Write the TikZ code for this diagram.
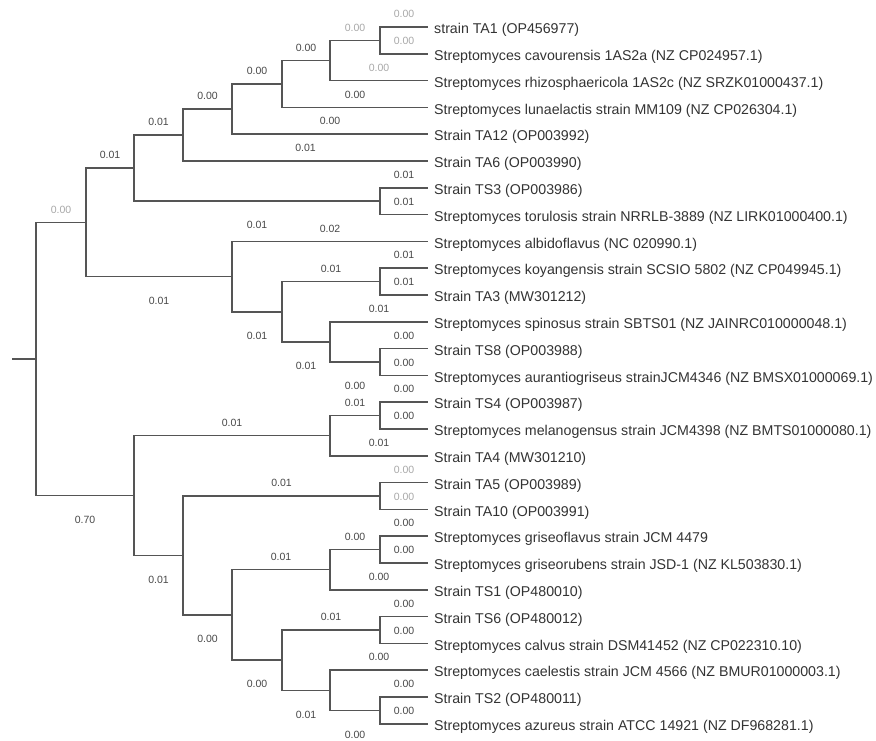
\documentclass[tikz,border=0pt]{standalone}
\usepackage{fontspec}
\setmainfont{Liberation Sans}
\usepackage{xcolor}
\definecolor{branch}{HTML}{555555}
\definecolor{taxtext}{HTML}{333333}
\definecolor{lentext}{HTML}{484848}
\definecolor{lenfaint}{HTML}{A8A8A8}

\begin{document}
\begin{tikzpicture}[x=1pt, y=-1pt,
    limb/.style={draw=branch, line width=1.5pt},
    taxon/.style={anchor=west, xshift=6pt, yshift=-3pt, inner sep=0pt, text=taxtext, font=\fontsize{14.2}{15}\selectfont},
    len/.style={pos=.75, anchor=base, inner sep=0pt, text=lentext, font=\fontsize{10.5}{11}\selectfont},
    up/.style={len, yshift=9.3pt},
    dn/.style={len, yshift=-27.7pt},
    faint/.style={text=lenfaint}]

            \useasboundingbox (0,0) rectangle (876,740);

            % taxa
            \path
            (428,27.0)  coordinate (t1)  node[taxon] (s1)  {strain TA1 (OP456977)}
            (428,53.8)  coordinate (t2)  node[taxon] (s2)  {Streptomyces cavourensis 1AS2a (NZ CP024957.1)}
            (428,80.6)  coordinate (t3)  node[taxon] (s3)  {Streptomyces rhizosphaericola 1AS2c (NZ SRZK01000437.1)}
            (428,107.4) coordinate (t4)  node[taxon] (s4)  {Streptomyces lunaelactis strain MM109 (NZ CP026304.1)}
            (428,134.2) coordinate (t5)  node[taxon] (s5)  {Strain TA12 (OP003992)}
            (428,161.0) coordinate (t6)  node[taxon] (s6)  {Strain TA6 (OP003990)}
            (428,187.8) coordinate (t7)  node[taxon] (s7)  {Strain TS3 (OP003986)}
            (428,214.6) coordinate (t8)  node[taxon] (s8)  {Streptomyces torulosis strain NRRLB-3889 (NZ LIRK01000400.1)}
            (428,241.4) coordinate (t9)  node[taxon] (s9)  {Streptomyces albidoflavus (NC 020990.1)}
            (428,268.2) coordinate (t10) node[taxon] (s10) {Streptomyces koyangensis strain SCSIO 5802 (NZ CP049945.1)}
            (428,295.0) coordinate (t11) node[taxon] (s11) {Strain TA3 (MW301212)}
            (428,321.8) coordinate (t12) node[taxon] (s12) {Streptomyces spinosus strain SBTS01 (NZ JAINRC010000048.1)}
            (428,348.6) coordinate (t13) node[taxon] (s13) {Strain TS8 (OP003988)}
            (428,375.4) coordinate (t14) node[taxon] (s14) {Streptomyces aurantiogriseus strainJCM4346 (NZ BMSX01000069.1)}
            (428,402.2) coordinate (t15) node[taxon] (s15) {Strain TS4 (OP003987)}
            (428,429.0) coordinate (t16) node[taxon] (s16) {Streptomyces melanogensus strain JCM4398 (NZ BMTS01000080.1)}
            (428,455.8) coordinate (t17) node[taxon] (s17) {Strain TA4 (MW301210)}
            (428,482.6) coordinate (t18) node[taxon] (s18) {Strain TA5 (OP003989)}
            (428,509.4) coordinate (t19) node[taxon] (s19) {Strain TA10 (OP003991)}
            (428,536.2) coordinate (t20) node[taxon] (s20) {Streptomyces griseoflavus strain JCM 4479}
            (428,563.0) coordinate (t21) node[taxon] (s21) {Streptomyces griseorubens strain JSD-1 (NZ KL503830.1)}
            (428,589.8) coordinate (t22) node[taxon] (s22) {Strain TS1 (OP480010)}
            (428,616.6) coordinate (t23) node[taxon] (s23) {Strain TS6 (OP480012)}
            (428,643.4) coordinate (t24) node[taxon] (s24) {Streptomyces calvus strain DSM41452 (NZ CP022310.10)}
            (428,670.2) coordinate (t25) node[taxon] (s25) {Streptomyces caelestis strain JCM 4566 (NZ BMUR01000003.1)}
            (428,697.0) coordinate (t26) node[taxon] (s26) {Strain TS2 (OP480011)}
            (428,723.8) coordinate (t27) node[taxon] (s27) {Streptomyces azureus strain ATCC 14921 (NZ DF968281.1)};

            % internal nodes
            \coordinate (r0) at (12,358.95);
            \coordinate (r)  at (36,358.95);
            \coordinate (nA) at (86,222.3);
            \coordinate (nB) at (134,168.1);
            \coordinate (nC) at (183,135.0);
            \coordinate (nD) at (232,109.1);
            \coordinate (nE) at (282,83.95);
            \coordinate (nF) at (330,60.5);
            \coordinate (nG) at (380,40.4);
            \coordinate (nH) at (380,201.2);
            \coordinate (nI) at (232,276.6);
            \coordinate (nJ) at (282,311.75);
            \coordinate (nK) at (380,281.6);
            \coordinate (nL) at (330,341.9);
            \coordinate (nM) at (380,362.0);
            \coordinate (nN) at (134,495.6);
            \coordinate (nO) at (330,435.7);
            \coordinate (nP) at (380,415.6);
            \coordinate (nQ) at (183,555.45);
            \coordinate (nR) at (380,496.0);
            \coordinate (nS) at (232,614.9);
            \coordinate (nT) at (330,569.7);
            \coordinate (nU) at (380,549.6);
            \coordinate (nV) at (282,660.15);
            \coordinate (nW) at (380,630.0);
            \coordinate (nX) at (330,690.3);
            \coordinate (nY) at (380,710.4);

            \draw[limb] (r0) -- (r);
            \draw[limb] (r) |- (nA) node[up,faint] (b1) {0.00};
            \draw[limb] (r) |- (nN) node[dn] (b2) {0.70};

            % upper clade
            \draw[limb] (nA) |- (nB) node[up] (b3) {0.01};
            \draw[limb] (nA) |- (nI) node[dn] (b4) {0.01};
            \draw[limb] (nB) |- (nC) node[up] (b5) {0.01};
            \draw[limb] (nB) |- (nH) node[dn] (b6) {0.01};
            \draw[limb] (nC) |- (nD) node[up] (b7) {0.00};
            \draw[limb] (nC) |- (t6) node[up] (b8) {0.01};
            \draw[limb] (nD) |- (nE) node[up] (b9) {0.00};
            \draw[limb] (nD) |- (t5) node[up] (b10) {0.00};
            \draw[limb] (nE) |- (nF) node[up] (b11) {0.00};
            \draw[limb] (nE) |- (t4) node[up] (b12) {0.00};
            \draw[limb] (nF) |- (nG) node[up,faint] (b13) {0.00};
            \draw[limb] (nF) |- (t3) node[up,faint] (b14) {0.00};
            \draw[limb] (nG) |- (t1) node[up,faint] (b15) {0.00};
            \draw[limb] (nG) |- (t2) node[up,faint] (b16) {0.00};
            \draw[limb] (nH) |- (t7) node[up] (b17) {0.01};
            \draw[limb] (nH) |- (t8) node[up] (b18) {0.01};
            \draw[limb] (nI) |- (t9) node[up] (b19) {0.02};
            \draw[limb] (nI) |- (nJ) node[dn] (b20) {0.01};
            \draw[limb] (nJ) |- (nK) node[up] (b21) {0.01};
            \draw[limb] (nJ) |- (nL) node[dn] (b22) {0.01};
            \draw[limb] (nK) |- (t10) node[up] (b23) {0.01};
            \draw[limb] (nK) |- (t11) node[up] (b24) {0.01};
            \draw[limb] (nL) |- (t12) node[up] (b25) {0.01};
            \draw[limb] (nL) |- (nM) node[dn] (b26) {0.00};
            \draw[limb] (nM) |- (t13) node[up] (b27) {0.00};
            \draw[limb] (nM) |- (t14) node[up] (b28) {0.00};

            % lower clade
            \draw[limb] (nN) |- (nO) node[up] (b29) {0.01};
            \draw[limb] (nN) |- (nQ) node[dn] (b30) {0.01};
            \draw[limb] (nO) |- (nP) node[up] (b31) {0.01};
            \draw[limb] (nO) |- (t17) node[up] (b32) {0.01};
            \draw[limb] (nP) |- (t15) node[up] (b33) {0.00};
            \draw[limb] (nP) |- (t16) node[up] (b34) {0.00};
            \draw[limb] (nQ) |- (nR) node[up] (b35) {0.01};
            \draw[limb] (nQ) |- (nS) node[dn] (b36) {0.00};
            \draw[limb] (nR) |- (t18) node[up,faint] (b37) {0.00};
            \draw[limb] (nR) |- (t19) node[up,faint] (b38) {0.00};
            \draw[limb] (nS) |- (nT) node[up] (b39) {0.01};
            \draw[limb] (nS) |- (nV) node[dn] (b40) {0.00};
            \draw[limb] (nT) |- (nU) node[up] (b41) {0.00};
            \draw[limb] (nT) |- (t22) node[up] (b42) {0.00};
            \draw[limb] (nU) |- (t20) node[up] (b43) {0.00};
            \draw[limb] (nU) |- (t21) node[up] (b44) {0.00};
            \draw[limb] (nV) |- (nW) node[up] (b45) {0.01};
            \draw[limb] (nV) |- (nX) node[dn] (b46) {0.01};
            \draw[limb] (nW) |- (t23) node[up] (b47) {0.00};
            \draw[limb] (nW) |- (t24) node[up] (b48) {0.00};
            \draw[limb] (nX) |- (t25) node[up] (b49) {0.00};
            \draw[limb] (nX) |- (nY) node[dn] (b50) {0.00};
            \draw[limb] (nY) |- (t26) node[up] (b51) {0.00};
            \draw[limb] (nY) |- (t27) node[up] (b52) {0.00};

        \end{tikzpicture}
\end{document}
